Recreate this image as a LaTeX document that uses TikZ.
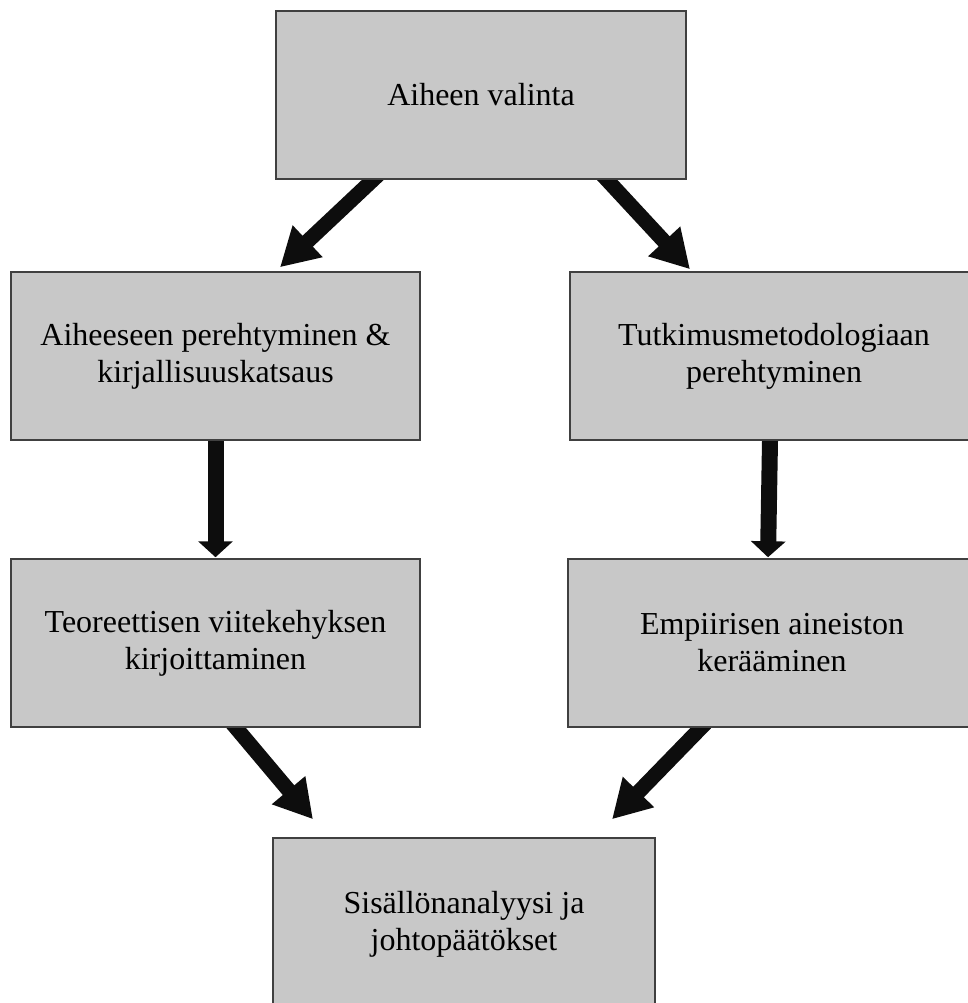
\documentclass[tikz,border=0pt]{standalone}
\usepackage{fontspec}
\setmainfont{Liberation Serif}
\usetikzlibrary{arrows.meta,backgrounds}
\definecolor{boxfill}{HTML}{C8C8C8}
\definecolor{boxline}{HTML}{404040}
\definecolor{arrowcol}{HTML}{0D0D0D}
\begin{document}
\begin{tikzpicture}[x=1pt,y=-1pt,
  stepbox/.style={draw=boxline, fill=boxfill, line width=1.5pt, minimum width=409pt,
    minimum height=168pt, inner sep=0pt, align=center,
    font=\fontsize{32pt}{37pt}\selectfont},
  diag/.style={draw=arrowcol, line width=15pt, shorten <=-14pt,
    -{Triangle[length=38pt,width=41pt]}},
  vert/.style={draw=arrowcol, line width=16pt, shorten <=-6pt,
    -{Triangle[length=16pt,width=34pt]}}]
\useasboundingbox (0,0) rectangle (967,1003);
\node[stepbox, minimum width=410pt] (top) at (481,95) {Aiheen valinta};
\node[stepbox] (l2) at (215.5,356) {Aiheeseen perehtyminen \&\\kirjallisuuskatsaus};
\node[stepbox, minimum width=408pt] (r2) at (774,356) {Tutkimusmetodologiaan\\perehtyminen};
\node[stepbox] (l3) at (215.5,643) {Teoreettisen viitekehyksen\\kirjoittaminen};
\node[stepbox, minimum width=408pt] (r3) at (772,643) {Empiirisen aineiston\\kerääminen};
\node[stepbox, minimum width=382pt, minimum height=172pt] (bot) at (464,924) {Sisällönanalyysi ja\\johtopäätökset};
\begin{scope}[on background layer]
\draw[diag] ([xshift=-108pt]top.south) -- ([xshift=64.5pt,yshift=4pt]l2.north);
\draw[diag] ([xshift=126pt]top.south) -- ([xshift=-84pt,yshift=2pt]r2.north);
\draw[vert] (l2.south) -- ([yshift=1pt]l3.north);
\draw[vert] ([xshift=-4pt]r2.south) -- ([xshift=-4pt,yshift=1pt]r3.north);
\draw[diag] ([xshift=20.5pt]l3.south) -- ([xshift=-151pt,yshift=18pt]bot.north);
\draw[diag] ([xshift=-71pt]r3.south) -- ([xshift=148pt,yshift=18pt]bot.north);
\end{scope}
\end{tikzpicture}
\end{document}
